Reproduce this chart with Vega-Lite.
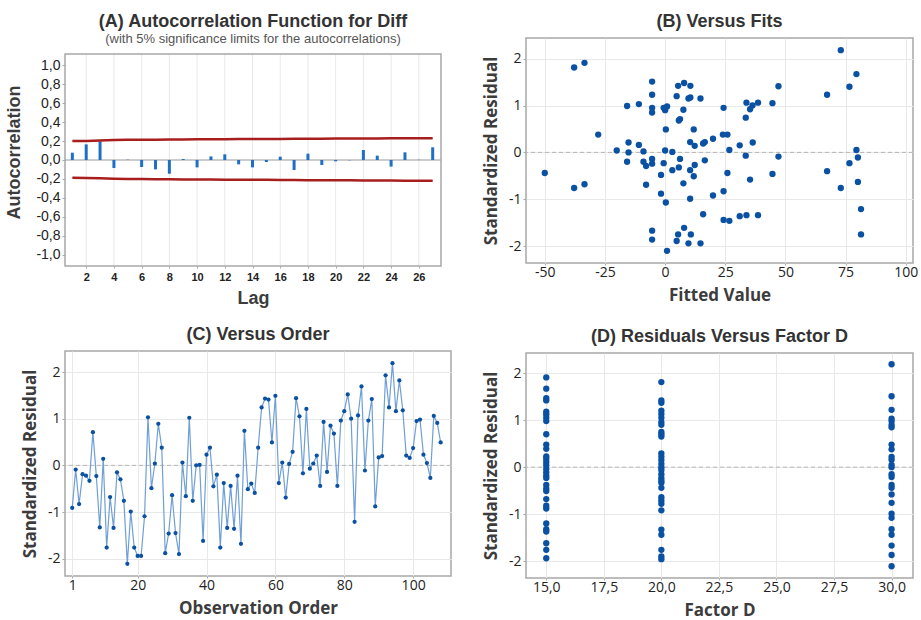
{
 "$schema": "https://vega.github.io/schema/vega-lite/v6.json",
 "background": "white",
 "padding": {"left": 5, "top": 12, "right": 2, "bottom": 0},
 "config": {
  "view": {"stroke": "#a8a8a8", "strokeWidth": 1.5},
  "axis": {"gridColor": "#e8e8e8", "domain": false, "tickColor": "#a8a8a8", "labelFont": "Open Sans", "labelFontSize": 14, "labelColor": "#222", "titleFont": "Open Sans", "titleFontWeight": "bold", "titleFontSize": 17, "titleColor": "#3c3c3c", "titlePadding": 8, "labelOverlap": false},
  "axisX": {"tickSize": 2, "labelPadding": 0},
  "axisY": {"tickSize": 3, "labelPadding": 2},
  "title": {"font": "Liberation Sans", "fontSize": 18, "fontWeight": "bold", "color": "#333", "offset": 7, "subtitleFont": "Liberation Sans", "subtitleFontSize": 13, "subtitleColor": "#555", "subtitlePadding": 2}
 },
 "datasets": {
  "acf": [
   {"lag":1,"acf":0.077},{"lag":2,"acf":0.165},{"lag":3,"acf":0.197},{"lag":4,"acf":-0.085},{"lag":5,"acf":0.003},{"lag":6,"acf":-0.074},{"lag":7,"acf":-0.099},{"lag":8,"acf":-0.145},{"lag":9,"acf":0.01},{"lag":10,"acf":-0.078},{"lag":11,"acf":0.038},{"lag":12,"acf":0.06},{"lag":13,"acf":-0.046},{"lag":14,"acf":-0.078},{"lag":15,"acf":-0.021},{"lag":16,"acf":0.035},{"lag":17,"acf":-0.106},{"lag":18,"acf":0.067},{"lag":19,"acf":-0.053},{"lag":20,"acf":-0.014},{"lag":21,"acf":-0.003},{"lag":22,"acf":0.106},{"lag":23,"acf":0.046},{"lag":24,"acf":-0.07},{"lag":25,"acf":0.081},{"lag":26,"acf":0.002},{"lag":27,"acf":0.134}
  ],
  "limits": [
   {"lag":1,"upper":0.200,"lower":-0.188},{"lag":2,"upper":0.202,"lower":-0.190},{"lag":3,"upper":0.206,"lower":-0.194},{"lag":4,"upper":0.211,"lower":-0.199},{"lag":5,"upper":0.213,"lower":-0.201},{"lag":6,"upper":0.214,"lower":-0.202},{"lag":7,"upper":0.215,"lower":-0.203},{"lag":8,"upper":0.216,"lower":-0.204},{"lag":9,"upper":0.217,"lower":-0.205},{"lag":10,"upper":0.218,"lower":-0.206},{"lag":11,"upper":0.219,"lower":-0.207},{"lag":12,"upper":0.220,"lower":-0.208},{"lag":13,"upper":0.221,"lower":-0.209},{"lag":14,"upper":0.222,"lower":-0.210},{"lag":15,"upper":0.222,"lower":-0.210},{"lag":16,"upper":0.223,"lower":-0.211},{"lag":17,"upper":0.224,"lower":-0.212},{"lag":18,"upper":0.225,"lower":-0.213},{"lag":19,"upper":0.225,"lower":-0.213},{"lag":20,"upper":0.226,"lower":-0.214},{"lag":21,"upper":0.227,"lower":-0.215},{"lag":22,"upper":0.228,"lower":-0.216},{"lag":23,"upper":0.228,"lower":-0.216},{"lag":24,"upper":0.229,"lower":-0.217},{"lag":25,"upper":0.230,"lower":-0.218},{"lag":26,"upper":0.230,"lower":-0.218},{"lag":27,"upper":0.231,"lower":-0.219}
  ],
  "fits": [
   {"fit":-50,"res":-0.44},{"fit":-37.8,"res":1.81},{"fit":-33.5,"res":1.91},{"fit":-37.8,"res":-0.76},{"fit":-33.5,"res":-0.68},{"fit":-27.8,"res":0.38},{"fit":-20.1,"res":0.04},{"fit":-15.8,"res":0.99},{"fit":-15.2,"res":0.21},{"fit":-15.2,"res":0.0},{"fit":-15.8,"res":-0.2},{"fit":-10.9,"res":1.03},{"fit":-10.9,"res":0.16},{"fit":-9.0,"res":0.02},{"fit":-9.0,"res":-0.2},{"fit":-7.9,"res":-0.29},{"fit":-7.9,"res":-0.69},{"fit":-5.4,"res":1.51},{"fit":-5.4,"res":1.23},{"fit":-5.4,"res":0.95},{"fit":-5.4,"res":0.85},{"fit":-5.4,"res":-0.14},{"fit":-5.4,"res":-0.24},{"fit":-5.4,"res":-1.67},{"fit":-5.4,"res":-1.86},{"fit":-1.7,"res":-0.88},{"fit":-1.7,"res":-0.48},{"fit":-0.6,"res":-0.23},{"fit":-0.6,"res":0.95},{"fit":0,"res":0.9},{"fit":0.8,"res":0.98},{"fit":0.3,"res":0.49},{"fit":0,"res":0.04},{"fit":0.3,"res":-1.07},{"fit":0.8,"res":-2.1},{"fit":3.0,"res":0.01},{"fit":3.0,"res":-0.38},{"fit":4.8,"res":1.2},{"fit":5.4,"res":1.42},{"fit":5.7,"res":0.68},{"fit":6.2,"res":0.71},{"fit":6.2,"res":-0.14},{"fit":5.7,"res":-0.32},{"fit":5.4,"res":-1.75},{"fit":4.8,"res":-1.89},{"fit":7.9,"res":1.48},{"fit":7.6,"res":0.91},{"fit":7.6,"res":-0.66},{"fit":7.9,"res":-1.61},{"fit":9.7,"res":1.15},{"fit":10.5,"res":1.42},{"fit":10.5,"res":1.17},{"fit":10.4,"res":0.22},{"fit":10.4,"res":-0.38},{"fit":10.4,"res":-0.99},{"fit":10.7,"res":-1.75},{"fit":9.7,"res":-1.94},{"fit":11.9,"res":0.49},{"fit":12.3,"res":0.14},{"fit":12.3,"res":-0.27},{"fit":11.9,"res":-0.51},{"fit":14.7,"res":1.15},{"fit":14.7,"res":-1.94},{"fit":15.8,"res":-1.32},{"fit":15.8,"res":0.19},{"fit":16.5,"res":0.22},{"fit":16.5,"res":-0.17},{"fit":19.9,"res":0.29},{"fit":19.9,"res":-0.92},{"fit":24.3,"res":0.95},{"fit":24.0,"res":0.38},{"fit":25.9,"res":0.38},{"fit":24.3,"res":-0.83},{"fit":24.3,"res":-1.44},{"fit":25.9,"res":-0.44},{"fit":26.7,"res":0.05},{"fit":26.7,"res":-1.46},{"fit":31.0,"res":0.15},{"fit":31.0,"res":-1.36},{"fit":33.8,"res":1.06},{"fit":33.5,"res":0.74},{"fit":33.5,"res":-0.07},{"fit":33.8,"res":-1.34},{"fit":35.3,"res":0.92},{"fit":36.3,"res":1.0},{"fit":36.4,"res":0.21},{"fit":35.3,"res":-0.58},{"fit":38.6,"res":1.06},{"fit":38.6,"res":-1.34},{"fit":44.6,"res":1.05},{"fit":44.6,"res":-0.46},{"fit":47.1,"res":1.41},{"fit":47.1,"res":-0.09},{"fit":67.3,"res":1.23},{"fit":67.3,"res":-0.4},{"fit":73.0,"res":2.18},{"fit":73.0,"res":-0.76},{"fit":76.6,"res":1.4},{"fit":76.6,"res":-0.23},{"fit":79.5,"res":1.67},{"fit":79.5,"res":0.05},{"fit":80.1,"res":-0.11},{"fit":80.1,"res":-0.63},{"fit":81.4,"res":-1.21},{"fit":81.4,"res":-1.75}
  ],
  "order": [
   {"obs":1,"res":-0.91},{"obs":2,"res":-0.09},{"obs":3,"res":-0.83},{"obs":4,"res":-0.19},{"obs":5,"res":-0.22},{"obs":6,"res":-0.33},{"obs":7,"res":0.71},{"obs":8,"res":-0.23},{"obs":9,"res":-1.33},{"obs":10,"res":0.14},{"obs":11,"res":-1.76},{"obs":12,"res":-0.68},{"obs":13,"res":-1.34},{"obs":14,"res":-0.15},{"obs":15,"res":-0.3},{"obs":16,"res":-0.76},{"obs":17,"res":-2.11},{"obs":18,"res":-0.99},{"obs":19,"res":-1.76},{"obs":20,"res":-1.94},{"obs":21,"res":-1.94},{"obs":22,"res":-1.09},{"obs":23,"res":1.03},{"obs":24,"res":-0.49},{"obs":25,"res":0.04},{"obs":26,"res":0.89},{"obs":27,"res":0.38},{"obs":28,"res":-1.88},{"obs":29,"res":-1.46},{"obs":30,"res":-0.64},{"obs":31,"res":-1.45},{"obs":32,"res":-1.9},{"obs":33,"res":0.06},{"obs":34,"res":-0.66},{"obs":35,"res":1.02},{"obs":36,"res":-0.76},{"obs":37,"res":0.0},{"obs":38,"res":0.01},{"obs":39,"res":-1.62},{"obs":40,"res":0.23},{"obs":41,"res":0.38},{"obs":42,"res":-0.45},{"obs":43,"res":-0.2},{"obs":44,"res":-1.76},{"obs":45,"res":-0.38},{"obs":46,"res":-1.34},{"obs":47,"res":-0.44},{"obs":48,"res":-1.36},{"obs":49,"res":-0.22},{"obs":50,"res":-1.68},{"obs":51,"res":0.74},{"obs":52,"res":-0.51},{"obs":53,"res":-0.39},{"obs":54,"res":-0.59},{"obs":55,"res":0.38},{"obs":56,"res":1.24},{"obs":57,"res":1.43},{"obs":58,"res":1.41},{"obs":59,"res":0.49},{"obs":60,"res":1.49},{"obs":61,"res":-0.38},{"obs":62,"res":0.06},{"obs":63,"res":-0.69},{"obs":64,"res":0.03},{"obs":65,"res":0.29},{"obs":66,"res":1.44},{"obs":67,"res":1.05},{"obs":68,"res":-0.17},{"obs":69,"res":1.21},{"obs":70,"res":-0.07},{"obs":71,"res":0.04},{"obs":72,"res":0.21},{"obs":73,"res":-0.44},{"obs":74,"res":0.93},{"obs":75,"res":-0.14},{"obs":76,"res":0.85},{"obs":77,"res":0.68},{"obs":78,"res":-0.44},{"obs":79,"res":0.96},{"obs":80,"res":1.16},{"obs":81,"res":1.52},{"obs":82,"res":1.0},{"obs":83,"res":-1.21},{"obs":84,"res":1.07},{"obs":85,"res":1.69},{"obs":86,"res":-0.11},{"obs":87,"res":0.96},{"obs":88,"res":1.42},{"obs":89,"res":-0.88},{"obs":90,"res":0.17},{"obs":91,"res":0.2},{"obs":92,"res":1.93},{"obs":93,"res":1.24},{"obs":94,"res":2.19},{"obs":95,"res":1.16},{"obs":96,"res":1.82},{"obs":97,"res":1.18},{"obs":98,"res":0.21},{"obs":99,"res":0.16},{"obs":100,"res":0.37},{"obs":101,"res":0.95},{"obs":102,"res":0.98},{"obs":103,"res":0.23},{"obs":104,"res":0.05},{"obs":105,"res":-0.27},{"obs":106,"res":1.06},{"obs":107,"res":0.91},{"obs":108,"res":0.49}
  ],
  "factor": [
   {"d":15,"res":1.91},{"d":15,"res":1.67},{"d":15,"res":1.47},{"d":15,"res":1.42},{"d":15,"res":1.18},{"d":15,"res":1.12},{"d":15,"res":1.05},{"d":15,"res":0.98},{"d":15,"res":0.7},{"d":15,"res":0.48},{"d":15,"res":0.39},{"d":15,"res":0.23},{"d":15,"res":0.18},{"d":15,"res":0.11},{"d":15,"res":0.04},{"d":15,"res":-0.04},{"d":15,"res":-0.11},{"d":15,"res":-0.18},{"d":15,"res":-0.23},{"d":15,"res":-0.38},{"d":15,"res":-0.46},{"d":15,"res":-0.51},{"d":15,"res":-0.68},{"d":15,"res":-0.82},{"d":15,"res":-0.88},{"d":15,"res":-1.2},{"d":15,"res":-1.32},{"d":15,"res":-1.37},{"d":15,"res":-1.62},{"d":15,"res":-1.76},{"d":15,"res":-1.94},
   {"d":20,"res":1.81},{"d":20,"res":1.42},{"d":20,"res":1.37},{"d":20,"res":1.2},{"d":20,"res":1.13},{"d":20,"res":1.05},{"d":20,"res":0.96},{"d":20,"res":0.9},{"d":20,"res":0.75},{"d":20,"res":0.7},{"d":20,"res":0.65},{"d":20,"res":0.29},{"d":20,"res":0.22},{"d":20,"res":0.15},{"d":20,"res":0.07},{"d":20,"res":0.0},{"d":20,"res":-0.06},{"d":20,"res":-0.15},{"d":20,"res":-0.23},{"d":20,"res":-0.29},{"d":20,"res":-0.33},{"d":20,"res":-0.44},{"d":20,"res":-0.64},{"d":20,"res":-0.71},{"d":20,"res":-0.78},{"d":20,"res":-0.92},{"d":20,"res":-1.33},{"d":20,"res":-1.44},{"d":20,"res":-1.76},{"d":20,"res":-1.9},{"d":20,"res":-1.96},
   {"d":30,"res":2.19},{"d":30,"res":1.51},{"d":30,"res":1.22},{"d":30,"res":1.03},{"d":30,"res":0.98},{"d":30,"res":0.9},{"d":30,"res":0.85},{"d":30,"res":0.48},{"d":30,"res":0.38},{"d":30,"res":0.22},{"d":30,"res":0.16},{"d":30,"res":0.05},{"d":30,"res":0.0},{"d":30,"res":-0.15},{"d":30,"res":-0.21},{"d":30,"res":-0.38},{"d":30,"res":-0.44},{"d":30,"res":-0.58},{"d":30,"res":-0.76},{"d":30,"res":-0.99},{"d":30,"res":-1.08},{"d":30,"res":-1.32},{"d":30,"res":-1.44},{"d":30,"res":-1.67},{"d":30,"res":-1.87},{"d":30,"res":-2.11}
  ]
 },
 "spacing": 28,
 "align": "none",
 "bounds": "full",
 "hconcat": [
  {
   "spacing": 18,
   "align": "none",
   "bounds": "full",
   "vconcat": [
    {
     "width": 376, "height": 228,
     "view": {"stroke": null},
     "title": {"text": "(A) Autocorrelation Function for Diff", "subtitle": "(with 5% significance limits for the autocorrelations)", "offset": -8},
     "layer": [
      {"data": {"name": "acf"}, "transform": [{"filter": "datum.lag % 2 == 0"}], "mark": {"type": "rule", "color": "#e8e8e8", "strokeWidth": 1},
       "encoding": {
        "x": {"field": "lag", "type": "quantitative", "scale": {"domain": [0.47, 27.6], "nice": false, "zero": false}, "axis": {"values": [2,4,6,8,10,12,14,16,18,20,22,24,26], "grid": false, "labelOverlap": false, "title": "Lag", "labelFont": "Liberation Sans", "labelFontWeight": "bold", "labelFontSize": 11, "labelPadding": 3, "titleFont": "Liberation Sans", "titleFontSize": 18, "titlePadding": 7}},
        "y": {"datum": -1.12, "type": "quantitative", "scale": {"domain": [-1.12, 1.289], "nice": false}, "axis": {"values": [-1,-0.8,-0.6,-0.4,-0.2,0,0.2,0.4,0.6,0.8,1], "labelOverlap": false, "title": "Autocorrelation", "labelExpr": "replace(replace(format(datum.value, '.1f'), '.', ','), '\u2212', '-')", "labelFont": "Liberation Sans", "labelFontSize": 14, "titleFont": "Liberation Sans", "titleFontSize": 18, "titlePadding": 12}},
        "y2": {"datum": 1.12}
       }},
      {"data": {"name": "acf"}, "transform": [{"filter": "datum.lag == 1"}], "mark": {"type": "rule", "color": "#9a9a9a", "strokeWidth": 1.2},
       "encoding": {
        "x": {"datum": 0.47, "type": "quantitative", "scale": {"domain": [0.47, 27.6], "nice": false, "zero": false}, "axis": {"values": [2,4,6,8,10,12,14,16,18,20,22,24,26], "grid": false, "labelOverlap": false, "title": "Lag", "labelFont": "Liberation Sans", "labelFontWeight": "bold", "labelFontSize": 11, "labelPadding": 3, "titleFont": "Liberation Sans", "titleFontSize": 18, "titlePadding": 7}},
        "x2": {"datum": 27.6},
        "y": {"datum": 0, "type": "quantitative", "scale": {"domain": [-1.12, 1.289], "nice": false}, "axis": {"values": [-1,-0.8,-0.6,-0.4,-0.2,0,0.2,0.4,0.6,0.8,1], "labelOverlap": false, "title": "Autocorrelation", "labelExpr": "replace(replace(format(datum.value, '.1f'), '.', ','), '\u2212', '-')", "labelFont": "Liberation Sans", "labelFontSize": 14, "titleFont": "Liberation Sans", "titleFontSize": 18, "titlePadding": 12}}
       }},
      {"data": {"name": "acf"}, "mark": {"type": "rule", "color": "#1f6fc5", "strokeWidth": 3},
       "encoding": {
        "x": {"field": "lag", "type": "quantitative", "scale": {"domain": [0.47, 27.6], "nice": false, "zero": false}, "axis": {"values": [2,4,6,8,10,12,14,16,18,20,22,24,26], "grid": false, "labelOverlap": false, "title": "Lag", "labelFont": "Liberation Sans", "labelFontWeight": "bold", "labelFontSize": 11, "labelPadding": 3, "titleFont": "Liberation Sans", "titleFontSize": 18, "titlePadding": 7}},
        "y": {"field": "acf", "type": "quantitative", "scale": {"domain": [-1.12, 1.289], "nice": false}, "axis": {"values": [-1,-0.8,-0.6,-0.4,-0.2,0,0.2,0.4,0.6,0.8,1], "labelOverlap": false, "title": "Autocorrelation", "labelExpr": "replace(replace(format(datum.value, '.1f'), '.', ','), '\u2212', '-')", "labelFont": "Liberation Sans", "labelFontSize": 14, "titleFont": "Liberation Sans", "titleFontSize": 18, "titlePadding": 12}},
        "y2": {"datum": 0}
       }},
      {"data": {"name": "limits"}, "mark": {"type": "line", "color": "#a81e1e", "strokeWidth": 2.5},
       "encoding": {
        "x": {"field": "lag", "type": "quantitative", "scale": {"domain": [0.47, 27.6], "nice": false, "zero": false}, "axis": {"values": [2,4,6,8,10,12,14,16,18,20,22,24,26], "grid": false, "labelOverlap": false, "title": "Lag", "labelFont": "Liberation Sans", "labelFontWeight": "bold", "labelFontSize": 11, "labelPadding": 3, "titleFont": "Liberation Sans", "titleFontSize": 18, "titlePadding": 7}},
        "y": {"field": "upper", "type": "quantitative", "scale": {"domain": [-1.12, 1.289], "nice": false}, "axis": {"values": [-1,-0.8,-0.6,-0.4,-0.2,0,0.2,0.4,0.6,0.8,1], "labelOverlap": false, "title": "Autocorrelation", "labelExpr": "replace(replace(format(datum.value, '.1f'), '.', ','), '\u2212', '-')", "labelFont": "Liberation Sans", "labelFontSize": 14, "titleFont": "Liberation Sans", "titleFontSize": 18, "titlePadding": 12}}
       }},
      {"data": {"name": "limits"}, "mark": {"type": "line", "color": "#a81e1e", "strokeWidth": 2.5},
       "encoding": {
        "x": {"field": "lag", "type": "quantitative", "scale": {"domain": [0.47, 27.6], "nice": false, "zero": false}, "axis": {"values": [2,4,6,8,10,12,14,16,18,20,22,24,26], "grid": false, "labelOverlap": false, "title": "Lag", "labelFont": "Liberation Sans", "labelFontWeight": "bold", "labelFontSize": 11, "labelPadding": 3, "titleFont": "Liberation Sans", "titleFontSize": 18, "titlePadding": 7}},
        "y": {"field": "lower", "type": "quantitative", "scale": {"domain": [-1.12, 1.289], "nice": false}, "axis": {"values": [-1,-0.8,-0.6,-0.4,-0.2,0,0.2,0.4,0.6,0.8,1], "labelOverlap": false, "title": "Autocorrelation", "labelExpr": "replace(replace(format(datum.value, '.1f'), '.', ','), '\u2212', '-')", "labelFont": "Liberation Sans", "labelFontSize": 14, "titleFont": "Liberation Sans", "titleFontSize": 18, "titlePadding": 12}}
       }},
      {"data": {"name": "acf"}, "transform": [{"filter": "datum.lag == 1"}], "mark": {"type": "rect", "filled": false, "stroke": "#a8a8a8", "strokeWidth": 1.5},
       "encoding": {
        "x": {"datum": 0.47, "type": "quantitative", "scale": {"domain": [0.47, 27.6], "nice": false, "zero": false}, "axis": {"values": [2,4,6,8,10,12,14,16,18,20,22,24,26], "grid": false, "labelOverlap": false, "title": "Lag", "labelFont": "Liberation Sans", "labelFontWeight": "bold", "labelFontSize": 11, "labelPadding": 3, "titleFont": "Liberation Sans", "titleFontSize": 18, "titlePadding": 7}},
        "x2": {"datum": 27.6},
        "y": {"datum": -1.12, "type": "quantitative", "scale": {"domain": [-1.12, 1.289], "nice": false}, "axis": {"values": [-1,-0.8,-0.6,-0.4,-0.2,0,0.2,0.4,0.6,0.8,1], "labelOverlap": false, "title": "Autocorrelation", "labelExpr": "replace(replace(format(datum.value, '.1f'), '.', ','), '\u2212', '-')", "labelFont": "Liberation Sans", "labelFontSize": 14, "titleFont": "Liberation Sans", "titleFontSize": 18, "titlePadding": 12}},
        "y2": {"datum": 1.12}
       }}
     ]
    },
    {
     "width": 386, "height": 225,
     "title": {"text": "(C) Versus Order"},
     "layer": [
      {"data": {"values": [{"zero": 0}]}, "mark": {"type": "rule", "color": "#b5b5b5", "strokeWidth": 1, "strokeDash": [4, 3]}, "encoding": {"y": {"field": "zero", "type": "quantitative"}}},
      {"data": {"name": "order"}, "mark": {"type": "line", "color": "#6f9fd6", "strokeWidth": 1.2},
       "encoding": {
        "x": {"field": "obs", "type": "quantitative", "scale": {"domain": [-1.1, 111], "nice": false, "zero": false},
              "axis": {"values": [1,10,20,30,40,50,60,70,80,90,100], "title": "Observation Order", "labelExpr": "'' + datum.value"}},
        "y": {"field": "res", "type": "quantitative", "scale": {"domain": [-2.37, 2.45], "nice": false},
              "axis": {"values": [-2,-1,0,1,2], "title": "Standardized Residual", "labelExpr": "'' + datum.value"}}
       }},
      {"data": {"name": "order"}, "mark": {"type": "circle", "color": "#0b51a3", "size": 18, "opacity": 1},
       "encoding": {"x": {"field": "obs", "type": "quantitative"}, "y": {"field": "res", "type": "quantitative"}}}
     ]
    }
   ]
  },
  {
   "spacing": 23,
   "align": "none",
   "bounds": "full",
   "vconcat": [
    {
     "width": 387, "height": 225,
     "title": {"text": "(B) Versus Fits", "offset": 7},
     "layer": [
      {"data": {"values": [{"zero": 0}]}, "mark": {"type": "rule", "color": "#b5b5b5", "strokeWidth": 1, "strokeDash": [4, 3]}, "encoding": {"y": {"field": "zero", "type": "quantitative"}}},
      {"data": {"name": "fits"}, "mark": {"type": "circle", "color": "#0b51a3", "size": 40, "opacity": 1},
       "encoding": {
        "x": {"field": "fit", "type": "quantitative", "scale": {"domain": [-57.8, 103], "nice": false, "zero": false},
              "axis": {"values": [-50,-25,0,25,50,75,100], "title": "Fitted Value", "labelExpr": "'' + datum.value"}},
        "y": {"field": "res", "type": "quantitative", "scale": {"domain": [-2.36, 2.44], "nice": false},
              "axis": {"values": [-2,-1,0,1,2], "title": "Standardized Residual", "labelExpr": "'' + datum.value"}}
       }}
     ]
    },
    {
     "width": 387, "height": 225,
     "title": {"text": "(D) Residuals Versus Factor D"},
     "layer": [
      {"data": {"values": [{"zero": 0}]}, "mark": {"type": "rule", "color": "#b5b5b5", "strokeWidth": 1, "strokeDash": [4, 3]}, "encoding": {"y": {"field": "zero", "type": "quantitative"}}},
      {"data": {"name": "factor"}, "mark": {"type": "circle", "color": "#0b51a3", "size": 40, "opacity": 1},
       "encoding": {
        "x": {"field": "d", "type": "quantitative", "scale": {"domain": [14.12, 30.93], "nice": false, "zero": false},
              "axis": {"values": [15,17.5,20,22.5,25,27.5,30], "title": "Factor D", "labelExpr": "replace(format(datum.value, '.1f'), '.', ',')"}},
        "y": {"field": "res", "type": "quantitative", "scale": {"domain": [-2.36, 2.43], "nice": false},
              "axis": {"values": [-2,-1,0,1,2], "title": "Standardized Residual", "labelExpr": "'' + datum.value"}}
       }}
     ]
    }
   ]
  }
 ]
}
